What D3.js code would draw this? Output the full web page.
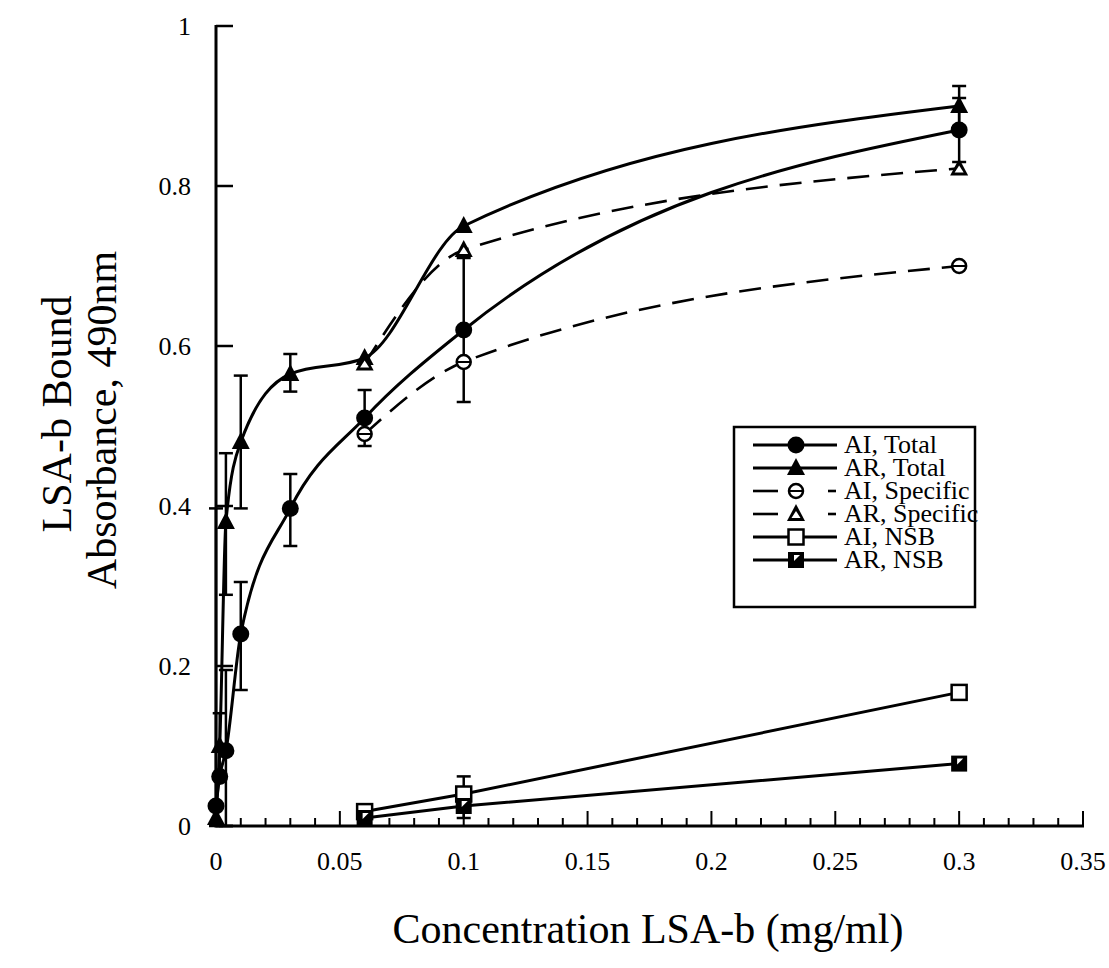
<!DOCTYPE html>
<html><head><meta charset="utf-8">
<script src="https://cdn.jsdelivr.net/npm/d3@7"></script>
<style>
html,body{margin:0;padding:0;background:#fff;}
svg{display:block;}
</style></head>
<body>
<svg id="chart" width="1109" height="968" font-family="'Liberation Serif', 'Times New Roman', 'DejaVu Serif', serif"></svg>
<script>
// ---------- data ----------
const xTotal = [0, 0.0015, 0.004, 0.01, 0.03, 0.06, 0.1, 0.3];
const aiTotal = [0.025, 0.062, 0.094, 0.24, 0.397, 0.51, 0.62, 0.87];
const arTotal = [0.01, 0.10, 0.38, 0.48, 0.565, 0.585, 0.75, 0.90];
const aiTotalLo = [null, null, 0.0, 0.17, 0.35, 0.475, 0.53, 0.83];
const aiTotalHi = [null, null, 0.195, 0.305, 0.44, 0.545, 0.71, 0.91];
const arTotalLo = [0.0, 0.06, 0.289, 0.397, 0.543, null, null, 0.875];
const arTotalHi = [0.397, 0.141, 0.466, 0.563, 0.59, null, null, 0.925];

const xSub = [0.06, 0.1, 0.3];
const aiSpecific = [0.49, 0.58, 0.70];
const arSpecific = [0.578, 0.72, 0.822];
const aiNSB = [0.018, 0.040, 0.167];
const arNSB = [0.010, 0.025, 0.078];
const aiNSBLo = [null, 0.02, null];
const aiNSBHi = [null, 0.062, null];
const arNSBLo = [null, 0.01, null];
const arNSBHi = [null, 0.04, null];

const xTicks = [0, 0.05, 0.1, 0.15, 0.2, 0.25, 0.3, 0.35];
const xTickLabels = ["0", "0.05", "0.1", "0.15", "0.2", "0.25", "0.3", "0.35"];
const yTicks = [0, 0.2, 0.4, 0.6, 0.8, 1];
const yTickLabels = ["0", "0.2", "0.4", "0.6", "0.8", "1"];
const legendLabels = ["AI, Total", "AR, Total", "AI, Specific", "AR, Specific", "AI, NSB", "AR, NSB"];

// ---------- layout ----------
const svg = d3.select("#chart");
const x = d3.scaleLinear().domain([0, 0.35]).range([216, 1083]);
const y = d3.scaleLinear().domain([0, 1]).range([826, 26]);

// axes
const axG = svg.append("g");
const minor = d3.range(0, 36).map(i => i / 100);
axG.selectAll("line.xminor").data(minor).join("line")
  .attr("x1", d => x(d)).attr("x2", d => x(d))
  .attr("y1", y(0)).attr("y2", (d, i) => i % 5 === 0 ? y(0) - 15 : y(0) - 8)
  .attr("stroke", "#000").attr("stroke-width", 2);
axG.append("line").attr("x1", x(0) - 1.5).attr("x2", x(0.35) + 1)
  .attr("y1", y(0)).attr("y2", y(0)).attr("stroke", "#000").attr("stroke-width", 3);
axG.append("line").attr("x1", x(0)).attr("x2", x(0))
  .attr("y1", y(0)).attr("y2", y(1) - 1).attr("stroke", "#000").attr("stroke-width", 3);
axG.selectAll("line.ytick").data(yTicks).join("line")
  .attr("x1", x(0)).attr("x2", x(0) + 17)
  .attr("y1", d => y(d)).attr("y2", d => y(d))
  .attr("stroke", "#000").attr("stroke-width", 2.5);

axG.selectAll("text.xl").data(xTicks).join("text")
  .attr("x", d => x(d)).attr("y", 870)
  .attr("text-anchor", "middle").attr("font-size", 26)
  .text((d, i) => xTickLabels[i]);
axG.selectAll("text.yl").data(yTicks).join("text")
  .attr("x", 191).attr("y", d => y(d) + 9)
  .attr("text-anchor", "end").attr("font-size", 26)
  .text((d, i) => yTickLabels[i]);

// titles
svg.append("text").attr("x", 648).attr("y", 943).attr("text-anchor", "middle")
  .attr("font-size", 42).text("Concentration LSA-b (mg/ml)");
svg.append("text").attr("transform", "translate(71,414) rotate(-90)")
  .attr("text-anchor", "middle").attr("font-size", 42).text("LSA-b Bound");
svg.append("text").attr("transform", "translate(116,420) rotate(-90)")
  .attr("text-anchor", "middle").attr("font-size", 42).text("Absorbance, 490nm");

// ---------- series ----------
const series = [
  {xs: xTotal, ys: aiTotal, lo: aiTotalLo, hi: aiTotalHi, dash: null, marker: "circleFilled", curve: d3.curveMonotoneX},
  {xs: xTotal, ys: arTotal, lo: arTotalLo, hi: arTotalHi, dash: null, marker: "triFilled", curve: d3.curveMonotoneX},
  {xs: xSub, ys: aiSpecific, lo: null, hi: null, dash: "22,12", marker: "circleOpen", curve: d3.curveMonotoneX},
  {xs: xSub, ys: arSpecific, lo: null, hi: null, dash: "22,12", marker: "triOpen", curve: d3.curveMonotoneX},
  {xs: xSub, ys: aiNSB, lo: aiNSBLo, hi: aiNSBHi, dash: null, marker: "squareOpen", curve: d3.curveLinear},
  {xs: xSub, ys: arNSB, lo: arNSBLo, hi: arNSBHi, dash: null, marker: "squareHalf", curve: d3.curveLinear}
];

const plotG = svg.append("g");
series.forEach(s => {
  const pts = s.xs.map((xv, i) => [xv, s.ys[i]]);
  const line = d3.line().x(d => x(d[0])).y(d => y(d[1])).curve(s.curve);
  plotG.append("path").attr("d", line(pts)).attr("fill", "none")
    .attr("stroke", "#000").attr("stroke-width", s.dash ? 2.6 : 3)
    .attr("stroke-dasharray", s.dash);
});

// error bars
const ebG = svg.append("g");
series.forEach(s => {
  if (!s.lo) return;
  s.xs.forEach((xv, i) => {
    if (s.lo[i] == null) return;
    const cx = x(xv);
    ebG.append("line").attr("x1", cx).attr("x2", cx).attr("y1", y(s.lo[i])).attr("y2", y(s.hi[i]))
      .attr("stroke", "#000").attr("stroke-width", 2.5);
    [s.lo[i], s.hi[i]].forEach(v => {
      ebG.append("line").attr("x1", cx - 7).attr("x2", cx + 7).attr("y1", y(v)).attr("y2", y(v))
        .attr("stroke", "#000").attr("stroke-width", 2.5);
    });
  });
});

function drawMarker(g, type, cx, cy) {
  if (type === "circleFilled") {
    g.append("circle").attr("cx", cx).attr("cy", cy).attr("r", 8.5).attr("fill", "#000");
  } else if (type === "circleOpen") {
    g.append("circle").attr("cx", cx).attr("cy", cy).attr("r", 7).attr("fill", "#fff")
      .attr("stroke", "#000").attr("stroke-width", 2.5);
    g.append("line").attr("x1", cx - 7).attr("x2", cx + 7).attr("y1", cy).attr("y2", cy)
      .attr("stroke", "#000").attr("stroke-width", 2);
  } else if (type === "triFilled" || type === "triOpen") {
    const p = [[cx, cy - 10], [cx + 9, cy + 7], [cx - 9, cy + 7]];
    g.append("path").attr("d", "M" + p.join("L") + "Z")
      .attr("fill", "#000");
    if (type === "triOpen") {
      const q = [[cx, cy - 3], [cx + 4.5, cy + 4], [cx - 4.5, cy + 4]];
      g.append("path").attr("d", "M" + q.join("L") + "Z").attr("fill", "#fff");
    }
  } else if (type === "squareOpen") {
    g.append("rect").attr("x", cx - 7.5).attr("y", cy - 7.5).attr("width", 15).attr("height", 15)
      .attr("fill", "#fff").attr("stroke", "#000").attr("stroke-width", 2.5);
  } else if (type === "squareHalf") {
    g.append("rect").attr("x", cx - 8).attr("y", cy - 8).attr("width", 16).attr("height", 16)
      .attr("fill", "#000");
    const q = [[cx - 2, cy - 5], [cx + 4, cy - 5], [cx - 2, cy + 1]];
    g.append("path").attr("d", "M" + q.join("L") + "Z").attr("fill", "#fff");
  }
}

const mkG = svg.append("g");
series.forEach(s => {
  s.xs.forEach((xv, i) => drawMarker(mkG, s.marker, x(xv), y(s.ys[i])));
});

// ---------- legend ----------
const lg = svg.append("g");
lg.append("rect").attr("x", 734).attr("y", 427).attr("width", 241).attr("height", 180)
  .attr("fill", "#fff").attr("stroke", "#000").attr("stroke-width", 2.5);
legendLabels.forEach((lab, i) => {
  const s = series[i];
  const cy = 445 + i * 23;
  if (s.dash) {
    lg.append("line").attr("x1", 753).attr("x2", 778).attr("y1", cy).attr("y2", cy)
      .attr("stroke", "#000").attr("stroke-width", 2.6);
    lg.append("line").attr("x1", 828).attr("x2", 836).attr("y1", cy).attr("y2", cy)
      .attr("stroke", "#000").attr("stroke-width", 2.6);
  } else {
    lg.append("line").attr("x1", 753).attr("x2", 837).attr("y1", cy).attr("y2", cy)
      .attr("stroke", "#000").attr("stroke-width", 3);
  }
  drawMarker(lg, s.marker, 796, cy);
  lg.append("text").attr("x", 844).attr("y", cy + 8).attr("font-size", 26).text(lab);
});
</script>
</body></html>
